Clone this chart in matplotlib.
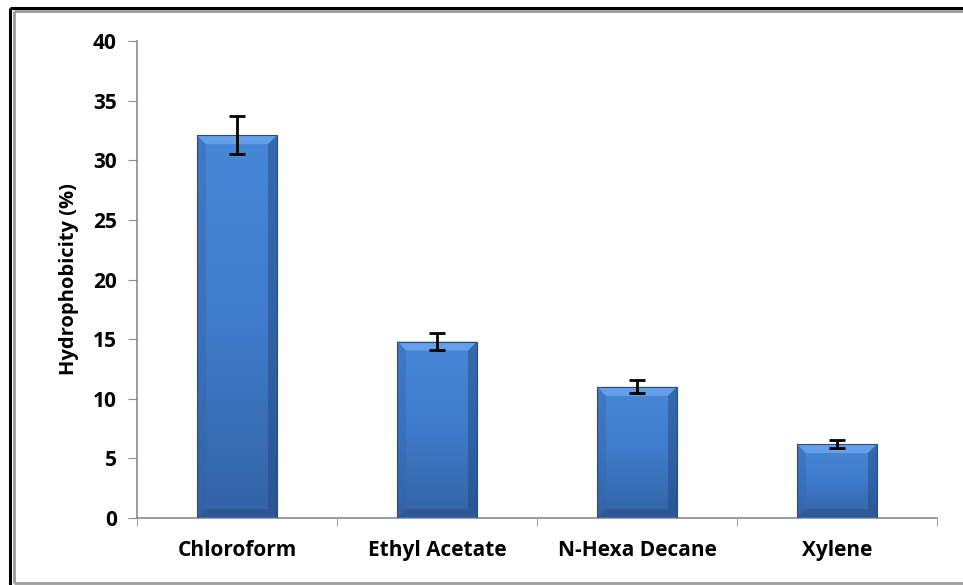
import numpy as np
import matplotlib
matplotlib.use("Agg")
import matplotlib.pyplot as plt
from matplotlib.patches import Polygon, Rectangle
from matplotlib.lines import Line2D
from matplotlib.colors import LinearSegmentedColormap

categories = ["Chloroform", "Ethyl Acetate", "N-Hexa Decane", "Xylene"]
hydrophobicity = [32.1, 14.8, 11.0, 6.2]
errors = [1.6, 0.75, 0.55, 0.35]
yticks = [0, 5, 10, 15, 20, 25, 30, 35, 40]

plt.rcParams["font.family"] = ["Open Sans", "DejaVu Sans"]

W, H = 963, 585
fig = plt.figure(figsize=(W / 100, H / 100), dpi=100)
ax = fig.add_axes([137 / W, (H - 518) / H, 800 / W, 477 / H])

x = np.arange(len(categories))
width = 0.4
bars = ax.bar(x, hydrophobicity, width=width, color="#3F7ACB", zorder=2)

cmap = LinearSegmentedColormap.from_list("bar", ["#3463A5", "#3F7BCA", "#4887D7"])
px_x = 800 / 4
px_y = 477 / 40
for b in bars:
    x0, y0 = b.get_x(), b.get_y()
    w, h = b.get_width(), b.get_height()
    b.set_facecolor("none")
    grad = np.linspace(0, 1, 256).reshape(-1, 1)
    im = ax.imshow(grad, extent=(x0, x0 + w, y0, y0 + h), origin="lower",
                   aspect="auto", cmap=cmap, zorder=2)
    im.set_clip_path(b)
    bx = 9 / px_x
    by = 9 / px_y
    top = y0 + h
    x1 = x0 + w
    # bevelled edges: light top, shaded sides and bottom
    ax.add_patch(Polygon([(x0, top), (x1, top), (x1 - bx, top - by), (x0 + bx, top - by)],
                         facecolor="#6AA5EE", edgecolor="none", zorder=3, alpha=0.85))
    ax.add_patch(Polygon([(x0, top), (x0 + bx, top - by), (x0 + bx, y0 + by), (x0, y0)],
                         facecolor="#2F62A6", edgecolor="none", zorder=3, alpha=0.35))
    ax.add_patch(Polygon([(x1, top), (x1 - bx, top - by), (x1 - bx, y0 + by), (x1, y0)],
                         facecolor="#1E4679", edgecolor="none", zorder=3, alpha=0.45))
    ax.add_patch(Polygon([(x0, y0), (x0 + bx, y0 + by), (x1 - bx, y0 + by), (x1, y0)],
                         facecolor="#1E4679", edgecolor="none", zorder=3, alpha=0.35))
    ax.add_patch(Rectangle((x0, y0), w, h, facecolor="none", edgecolor="#244C85",
                           linewidth=0.8, zorder=3))

ax.errorbar(x, hydrophobicity, yerr=errors, fmt="none", ecolor="black",
            elinewidth=2, capsize=6, capthick=2, zorder=5)

ax.set_xlim(-0.5, len(categories) - 0.5)
ax.set_ylim(0, 40)
ax.set_yticks(yticks)
ax.set_yticklabels([str(v) for v in yticks], fontsize=15, fontweight="bold")
ax.set_xticks(x)
ax.set_xticklabels(categories, fontsize=15, fontweight="bold")
ax.set_xticks(np.arange(len(categories) + 1) - 0.5, minor=True)
ax.tick_params(axis="x", which="major", length=0, pad=16)
ax.tick_params(axis="x", which="minor", length=6, color="#8C8C8C", direction="out")
ax.tick_params(axis="y", length=6.5, color="#8C8C8C", direction="out", pad=8)
ax.set_ylabel("Hydrophobicity (%)", fontsize=14.5, fontweight="bold", labelpad=10)

for side in ["top", "right"]:
    ax.spines[side].set_visible(False)
for side in ["left", "bottom"]:
    ax.spines[side].set_color("#8C8C8C")
    ax.spines[side].set_linewidth(1.2)


def px_line(xs, ys, color, lw):
    fig.add_artist(Line2D([v / W for v in xs], [1 - v / H for v in ys],
                          transform=fig.transFigure, color=color, linewidth=lw,
                          solid_capstyle="butt"))


# chart frame: dark border top/left, grey inner border
px_line([9.5, W], [7.8, 7.8], "black", 2.2)
px_line([9.5, 9.5], [7.8, H], "black", 2.2)
px_line([13.8, W], [11, 11], "#9A9A9A", 2.0)
px_line([13.8, 13.8], [11, 582.5], "#9A9A9A", 2.0)
px_line([13.8, W], [582.5, 582.5], "#9A9A9A", 2.0)

fig.savefig("out.png", dpi=100)
